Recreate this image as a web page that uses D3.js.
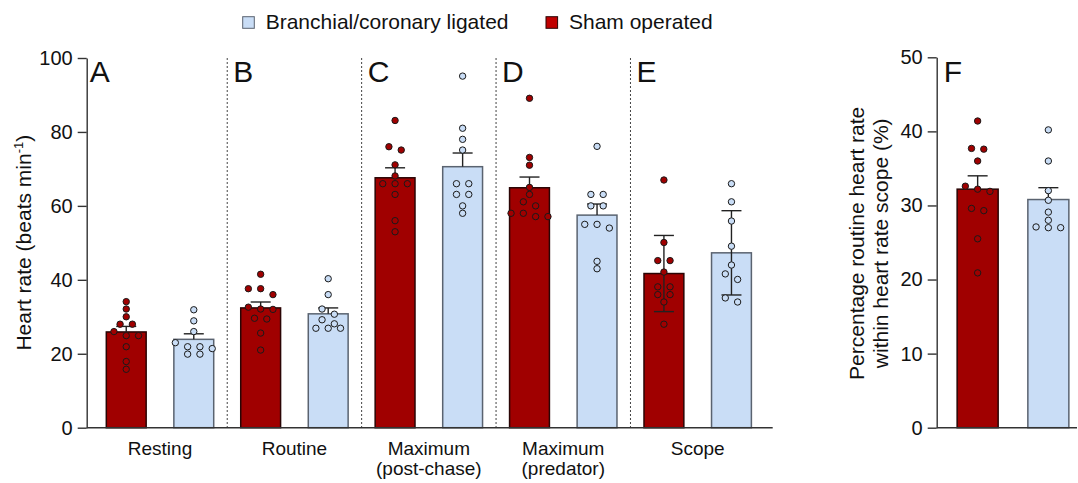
<!DOCTYPE html>
<html lang="en">
<head>
<meta charset="UTF-8">
<title>Heart rate</title>
<script src="https://cdnjs.cloudflare.com/ajax/libs/d3/7.8.5/d3.min.js"></script>
<style>
    body { margin: 0; background: #fff; }
    svg text { font-family: "Liberation Sans", Arial, sans-serif; fill: #111; }
</style>
</head>
<body>
<script>
    // values
    var groups = ['Resting', 'Routine', 'Maximum (post-chase)', 'Maximum (predator)', 'Scope']
    var groupLines = [['Resting'], ['Routine'], ['Maximum', '(post-chase)'], ['Maximum', '(predator)'], ['Scope']]
    var letters = ['A', 'B', 'C', 'D', 'E']
    var seriesNames = ['Branchial/coronary ligated', 'Sham operated']
    var yTicks = [0, 20, 40, 60, 80, 100]
    var yTicksF = [0, 10, 20, 30, 40, 50]

    var shamMean = [25.9, 32.4, 67.6, 64.9, 41.7]
    var blueMean = [23.9, 30.8, 70.6, 57.5, 47.3]
    var shamErr = [1.5, 1.6, 2.7, 2.9, 10.3]
    var blueErr = [1.5, 1.6, 3.7, 3.0, 11.4]
    var twoSided = [false, false, false, false, true]   // E shows SD both ways

    var shamPts = [
        [34.1, 32.1, 30.0, 28.0, 28.0, 26.0, 24.9, 24.9, 21.9, 17.9, 15.8],
        [41.5, 37.6, 37.6, 36.0, 32.6, 32.1, 32.0, 29.6, 29.4, 25.6, 21.0],
        [83.1, 76.0, 75.1, 71.1, 68.1, 66.0, 66.0, 66.0, 63.1, 56.0, 53.0],
        [89.1, 73.1, 71.0, 65.0, 63.1, 61.1, 60.0, 58.0, 58.0, 57.1, 57.1],
        [67.0, 50.1, 45.2, 45.2, 42.1, 38.1, 38.1, 36.0, 36.0, 34.0, 28.0]
    ]
    var bluePts = [
        [31.9, 28.9, 26.0, 23.0, 21.9, 21.9, 21.4, 19.9, 19.9],
        [40.3, 36.0, 32.1, 30.7, 29.2, 28.1, 26.9, 26.9, 26.9],
        [95.1, 81.0, 78.0, 75.1, 66.0, 66.0, 63.1, 63.1, 60.0, 58.0],
        [76.1, 63.1, 63.1, 60.0, 60.0, 55.0, 55.0, 54.0, 45.0, 43.0],
        [66.0, 61.1, 55.9, 49.1, 44.0, 41.6, 40.1, 35.1, 34.0]
    ]

    // panel F: percentage routine heart rate within scope
    var fShamMean = 32.2, fBlueMean = 30.8
    var fShamErr = 1.8, fBlueErr = 1.6
    var fShamPts = [41.4, 37.7, 37.6, 36.0, 32.6, 32.2, 31.9, 29.6, 29.3, 25.5, 20.9]
    var fBluePts = [40.2, 36.0, 32.0, 30.7, 29.1, 28.0, 27.1, 27.0, 27.0]

    var col = {
        sham: '#a00000', shamStroke: '#2a0505', shamLegend: '#c00000',
        blue: '#c9ddf6', blueStroke: '#5a6370', dot: '#1a1a1a', axis: '#333'
    }

    var width = 1078, height = 483
    var x0 = 86.7, x1 = 772.7, yBase = 427.7
    var fx0 = 936.7, fx1 = 1077

    var svg = d3.select('body').append('svg')
        .attr('width', width)
        .attr('height', height)

    var y = d3.scaleLinear().domain([0, 100]).range([yBase, 58])
    var yF = d3.scaleLinear().domain([0, 50]).range([yBase, 57.3])
    var xGroup = d3.scaleBand().domain(groups).range([92.8, 764.9])
    var xSub = d3.scaleBand().domain(['sham', 'blue'])
        .range([0, xGroup.bandwidth()])
        .paddingInner(0.41).paddingOuter(0.2)
    var xF = d3.scaleBand().domain(['sham', 'blue'])
        .range([943, 1083])
        .paddingInner(0.42).paddingOuter(0.2)

    // rows of near-equal values spread sideways, like a scatter-dot column
    function swarm(vals, yS) {
        var w = 12.3, gap = 6
        var pts = vals.map(v => ({ v: v, py: yS(v) })).sort((a, b) => a.py - b.py)
        var rows = [], cur = null
        pts.forEach(p => {
            if (!cur || p.py - cur[0].py > gap) { cur = [p]; rows.push(cur) }
            else cur.push(p)
        })
        rows.forEach(r => r.forEach((p, i) => { p.dx = (i - (r.length - 1) / 2) * w }))
        return pts
    }

    function drawBar(cx, bw, yS, mean, err, pts, both, kind) {
        var sham = kind === 'sham'
        svg.append('rect')
            .attr('x', cx - bw / 2)
            .attr('y', yS(mean))
            .attr('width', bw)
            .attr('height', yS(0) - yS(mean))
            .attr('fill', sham ? col.sham : col.blue)
            .attr('stroke', sham ? col.shamStroke : col.blueStroke)
            .attr('stroke-width', 1.5)

        var hi = mean + err, lo = both ? mean - err : mean
        var g = svg.append('g').attr('stroke', '#222').attr('stroke-width', 1.4)
        g.append('line').attr('x1', cx).attr('x2', cx).attr('y1', yS(lo)).attr('y2', yS(hi))
        g.append('line').attr('x1', cx - 10).attr('x2', cx + 10).attr('y1', yS(hi)).attr('y2', yS(hi))
        if (both) g.append('line').attr('x1', cx - 10).attr('x2', cx + 10).attr('y1', yS(lo)).attr('y2', yS(lo))

        svg.append('g').selectAll('circle')
            .data(swarm(pts, yS))
            .enter()
            .append('circle')
            .attr('cx', d => cx + d.dx)
            .attr('cy', d => d.py)
            .attr('r', 3.2)
            .attr('fill', sham ? col.sham : col.blue)
            .attr('stroke', col.dot)
            .attr('stroke-width', 1)
    }

    // dashed separators between panels A-E
    svg.append('g').selectAll('line')
        .data(groups.slice(1))
        .enter()
        .append('line')
        .attr('x1', d => xGroup(d)).attr('x2', d => xGroup(d))
        .attr('y1', y(100)).attr('y2', yBase)
        .attr('stroke', '#444')
        .attr('stroke-width', 1)
        .attr('stroke-dasharray', '2,2')

    groups.forEach((g, i) => {
        var bw = xSub.bandwidth()
        drawBar(xGroup(g) + xSub('sham') + bw / 2, bw, y, shamMean[i], shamErr[i], shamPts[i], twoSided[i], 'sham')
        drawBar(xGroup(g) + xSub('blue') + bw / 2, bw, y, blueMean[i], blueErr[i], bluePts[i], twoSided[i], 'blue')
    })
    drawBar(xF('sham') + xF.bandwidth() / 2, xF.bandwidth(), yF, fShamMean, fShamErr, fShamPts, false, 'sham')
    drawBar(xF('blue') + xF.bandwidth() / 2, xF.bandwidth(), yF, fBlueMean, fBlueErr, fBluePts, false, 'blue')

    // axes
    function styleAxis(sel) {
        sel.select('.domain').attr('stroke', col.axis).attr('stroke-width', 1.4)
        sel.selectAll('.tick line').attr('stroke', col.axis).attr('stroke-width', 1.4)
        sel.selectAll('.tick text').attr('font-size', 20).attr('fill', '#111')
    }
    svg.append('g')
        .attr('transform', `translate(${x0}, 0)`)
        .call(d3.axisLeft(y).tickValues(yTicks).tickSize(9).tickSizeOuter(0).tickPadding(5))
        .call(styleAxis)
    svg.append('g')
        .attr('transform', `translate(${fx0}, 0)`)
        .call(d3.axisLeft(yF).tickValues(yTicksF).tickSize(9).tickSizeOuter(0).tickPadding(5))
        .call(styleAxis)
    svg.append('line').attr('x1', x0).attr('x2', x1).attr('y1', yBase).attr('y2', yBase)
        .attr('stroke', col.axis).attr('stroke-width', 1.4)
    svg.append('line').attr('x1', fx0).attr('x2', fx1).attr('y1', yBase).attr('y2', yBase)
        .attr('stroke', col.axis).attr('stroke-width', 1.4)

    // category labels
    groups.forEach((g, i) => {
        var t = svg.append('text')
            .attr('x', xGroup(g) + xGroup.bandwidth() / 2)
            .attr('y', 455)
            .attr('text-anchor', 'middle')
            .attr('font-size', 19)
        groupLines[i].forEach((s, j) => {
            t.append('tspan').attr('x', xGroup(g) + xGroup.bandwidth() / 2).attr('dy', j ? 20 : 0).text(s)
        })
    })

    // panel letters
    letters.forEach((l, i) => {
        svg.append('text')
            .attr('x', i === 0 ? x0 + 3 : xGroup(groups[i]) + 6)
            .attr('y', 82)
            .attr('font-size', 30)
            .text(l)
    })
    svg.append('text').attr('x', fx0 + 7).attr('y', 82).attr('font-size', 30).text('F')

    // axis titles
    var yl = svg.append('text')
        .attr('transform', 'translate(30.5, 242.7) rotate(-90)')
        .attr('text-anchor', 'middle')
        .attr('font-size', 21)
    yl.append('tspan').text('Heart rate (beats min')
    yl.append('tspan').attr('font-size', 13).attr('dy', -8).text('-1')
    yl.append('tspan').attr('dy', 8).text(')')

    ;['Percentage routine heart rate', 'within heart rate scope (%)'].forEach((s, j) => {
        svg.append('text')
            .attr('transform', `translate(${864 + j * 24}, 243.3) rotate(-90)`)
            .attr('text-anchor', 'middle')
            .attr('font-size', 21)
            .text(s)
    })

    // legend
    var legend = [
        { name: seriesNames[0], fill: col.blue, stroke: col.blueStroke, x: 242.7 },
        { name: seriesNames[1], fill: col.shamLegend, stroke: col.shamStroke, x: 546 }
    ]
    legend.forEach(d => {
        svg.append('rect').attr('x', d.x).attr('y', 16.7).attr('width', 11.6).attr('height', 11.6)
            .attr('fill', d.fill).attr('stroke', d.stroke).attr('stroke-width', 1)
        svg.append('text').attr('x', d.x + 23).attr('y', 28.8).attr('font-size', 21).text(d.name)
    })
</script>
</body>
</html>
